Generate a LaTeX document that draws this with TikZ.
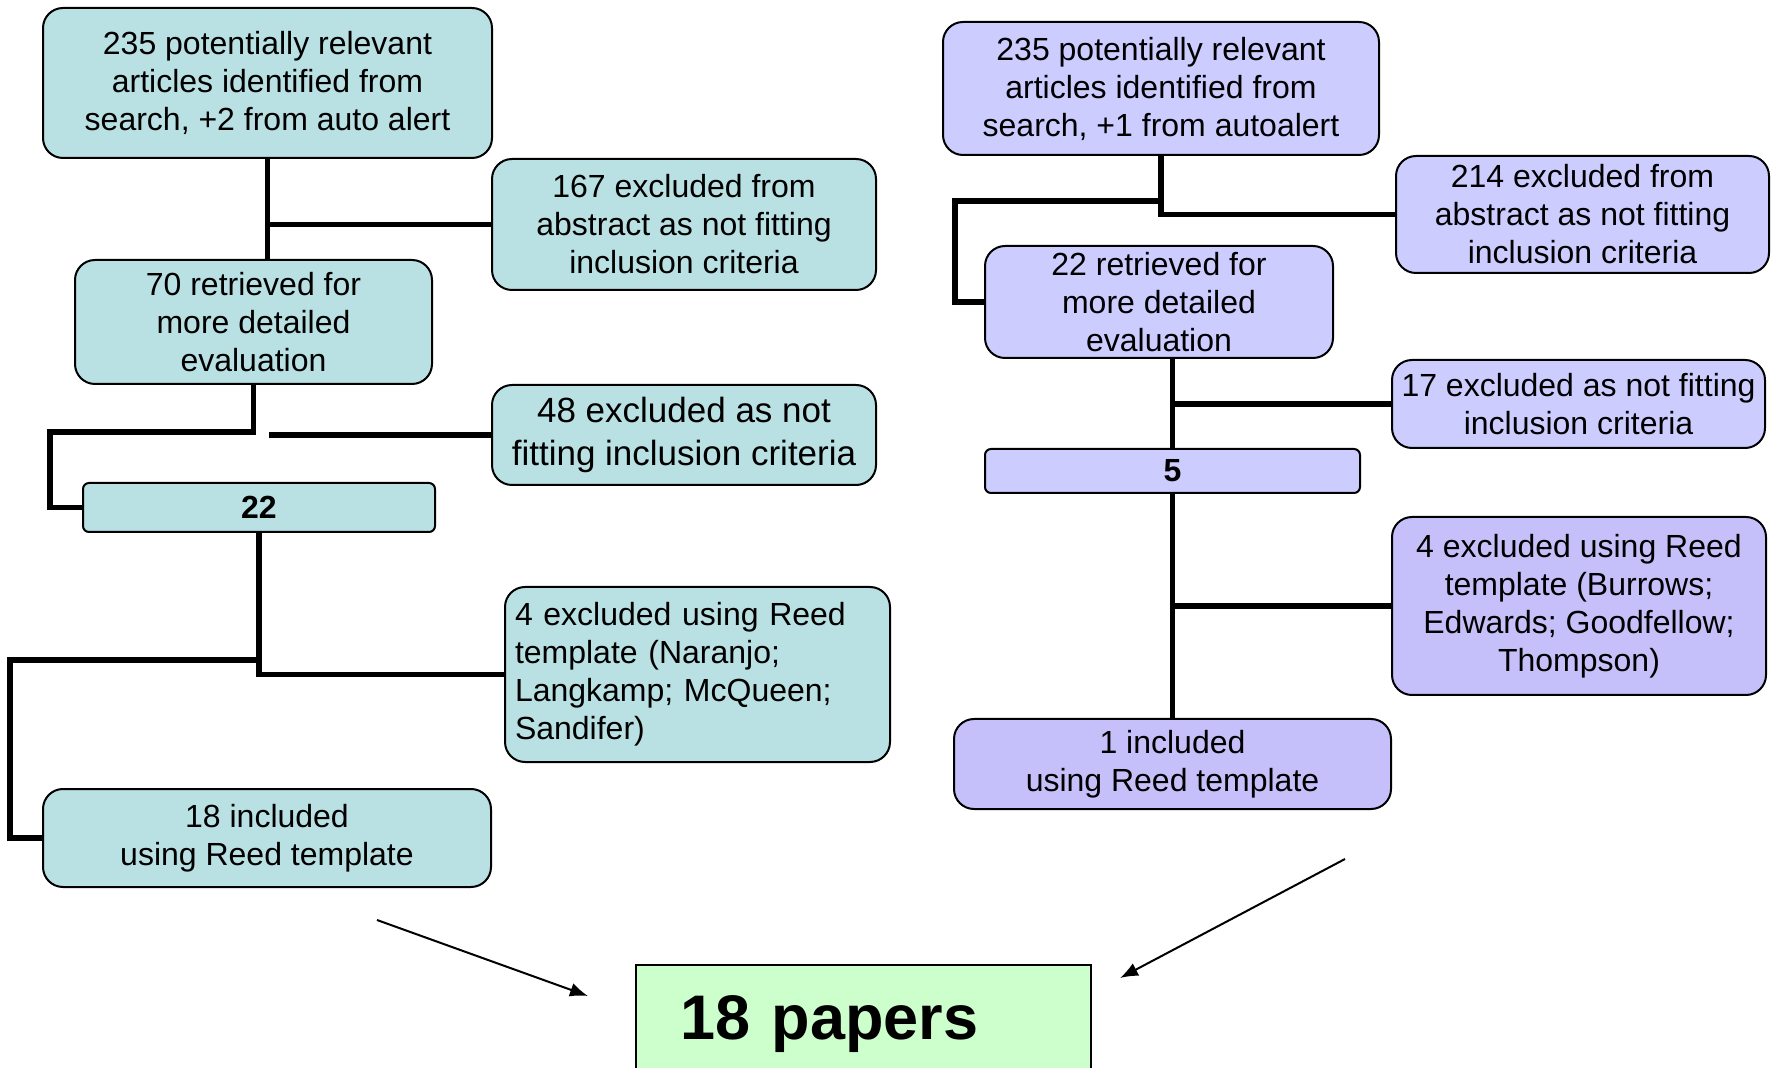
\documentclass[tikz,border=0pt]{standalone}
\usepackage{fontspec}
\setmainfont{Liberation Sans}
\usepackage{tikz}
\usetikzlibrary{arrows.meta}
\definecolor{leftcolor}{RGB}{185,224,227}
\definecolor{rightcolor}{RGB}{204,204,255}
\definecolor{rightdark}{RGB}{197,192,250}
\definecolor{papercolor}{RGB}{204,255,204}
\tikzset{flownode/.style={draw,line width=1pt,rounded corners=10pt,align=center,inner sep=2pt,font=\fontsize{16}{19}\selectfont\frenchspacing},
  leftnode/.style={flownode,fill=leftcolor},
  rightnode/.style={flownode,fill=rightcolor},
  darknode/.style={flownode,fill=rightdark},
  countnode/.style={rounded corners=3pt,font=\fontsize{16}{19}\selectfont\bfseries},
  flowline/.style={line width=2.8pt},
  mergearrow/.style={line width=1pt,-{Latex[length=9pt,width=7pt]}}}

\begin{document}
\begin{tikzpicture}[x=0.5pt,y=-0.5pt]
		\useasboundingbox (0,0) rectangle (1777,1068);
		%
		\node[leftnode,minimum width=224.5pt,minimum height=75pt] (a1) at (267.5,83) {235 potentially relevant\\articles identified from\\search, +2 from auto alert};
		\node[leftnode,minimum width=192pt,minimum height=65.5pt] (a2) at (684,224.5) {167 excluded from\\abstract as not fitting\\inclusion criteria};
		\node[leftnode,minimum width=178.5pt,minimum height=62pt] (a3) at (253.5,322) {70 retrieved for\\more detailed\\evaluation};
		\node[leftnode,minimum width=192pt,minimum height=50pt,font=\fontsize{17.5}{21.5}\selectfont] (a4) at (684,435) {48 excluded as not\\fitting inclusion criteria};
		\node[leftnode,countnode,minimum width=176pt,minimum height=24.5pt] (a5) at (259,507.5) {22};
		\node[leftnode,align=left,inner xsep=5pt,text width=182.5pt,minimum height=87.5pt] (a6) at (697.5,674.5) {4 excluded using Reed\\template (Naranjo;\\Langkamp; McQueen;\\Sandifer)};
		\node[leftnode,minimum width=224pt,minimum height=49pt] (a7) at (267,838) {18 included\\using Reed template};
		%
		\node[rightnode,minimum width=218pt,minimum height=66.5pt] (b1) at (1161,88.5) {235 potentially relevant\\articles identified from\\search, +1 from autoalert};
		\node[rightnode,minimum width=186.5pt,minimum height=58.5pt] (b2) at (1582.5,214.5) {214 excluded from\\abstract as not fitting\\inclusion criteria};
		\node[rightnode,minimum width=174pt,minimum height=56pt] (b3) at (1159,302) {22 retrieved for\\more detailed\\evaluation};
		\node[rightnode,minimum width=186.5pt,minimum height=44pt] (b4) at (1578.5,404) {17 excluded as not fitting\\inclusion criteria};
		\node[rightnode,countnode,minimum width=187.5pt,minimum height=22pt] (b5) at (1172.5,471) {5};
		\node[darknode,minimum width=187pt,minimum height=89pt] (b6) at (1579,606) {4 excluded using Reed\\template (Burrows;\\Edwards; Goodfellow;\\Thompson)};
		\node[darknode,minimum width=218.5pt,minimum height=45pt] (b7) at (1172.5,764) {1 included\\using Reed template};
		%
		\node[draw,line width=0.8pt,fill=papercolor,anchor=north west,inner xsep=22.5pt,inner ysep=0pt,text width=182.5pt,align=left,text height=37.5pt,text depth=30pt,font=\fontsize{31.5}{34}\selectfont\bfseries] (papers) at (635,964) {18 papers};
		%
		\coordinate (lgap) at (269,435);
		\coordinate (lturn) at (50,432);
		\coordinate (lout) at (10,660);
		\coordinate (rturn) at (955,201);
		\coordinate (lstart) at (377,920);
		\coordinate (lend) at (588,996);
		\coordinate (rstart) at (1345,859);
		\coordinate (rend) at (1120,978);
		%
		\draw[flowline] (a1.south) -- (a1.south |- a3.north);
		\draw[flowline] (a2.west) -- (a2.west -| a1.south);
		\draw[flowline] (a3.south) |- (lturn) |- (a5.west);
		\draw[flowline] (a4.west) -- (lgap);
		\draw[flowline] (a5.south) |- (a6.west);
		\draw[flowline] (a5.south |- lout) -- (lout) |- (a7.west);
		%
		\draw[flowline] (b1.south) |- (b2.west);
		\draw[flowline] (b1.south |- rturn) -- (rturn) |- (b3.west);
		\draw[flowline] (b5.north) -- (b5.north |- b3.south);
		\draw[flowline] (b4.west) -- (b4.west -| b5.north);
		\draw[flowline] (b5.south) -- (b7.north);
		\draw[flowline] (b6.west) -- (b6.west -| b5.south);
		%
		\draw[mergearrow] (lstart) -- (lend);
		\draw[mergearrow] (rstart) -- (rend);
	\end{tikzpicture}
\end{document}
